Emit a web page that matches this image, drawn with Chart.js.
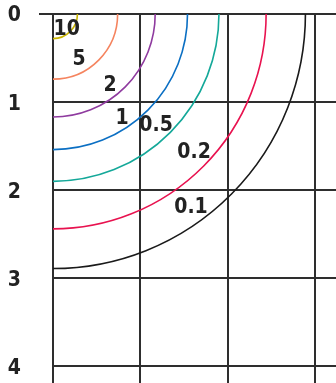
<!DOCTYPE html>
<html>
<head>
<meta charset="utf-8">
<script src="https://cdn.jsdelivr.net/npm/chart.js@4/dist/chart.umd.min.js"></script>
<style>
  html, body { margin: 0; padding: 0; background: #ffffff; overflow: hidden; }
  canvas { display: block; }
</style>
</head>
<body>
<canvas id="c" width="336" height="383" style="width:336px;height:383px"></canvas>
<script>
// ---- data ----
const curveLabels = ['10', '5', '2', '1', '0.5', '0.2', '0.1'];
const curveRadii  = [0.28, 0.74, 1.17, 1.54, 1.90, 2.44, 2.89];
const labelX      = [0.157, 0.298, 0.653, 0.79, 1.18, 1.615, 1.58];
const labelY      = [0.18, 0.52, 0.815, 1.19, 1.27, 1.577, 2.20];
const xTicks = [0, 1, 2, 3];
const yTicks = [0, 1, 2, 3, 4];

// ---- styles ----
const curveColors = ['#c9b400', '#f5845f', '#8f3b9f', '#0b6fc3', '#14a899', '#e8124f', '#1a1a1a'];
const gridColor = '#2e2e2e';
const FONT = "'DejaVu Sans Condensed', 'DejaVu Sans', sans-serif";

const arcsPlugin = {
  id: 'arcs',
  afterDatasetsDraw(chart) {
    const { ctx, chartArea, scales: { x, y } } = chart;
    const cx = x.getPixelForValue(0);
    const cy = y.getPixelForValue(0);
    ctx.save();
    ctx.beginPath();
    ctx.rect(chartArea.left, chartArea.top, chartArea.right - chartArea.left, chartArea.bottom - chartArea.top);
    ctx.clip();
    curveRadii.forEach((r, i) => {
      const rx = Math.abs(x.getPixelForValue(r) - cx);
      const ry = Math.abs(y.getPixelForValue(r) - cy);
      ctx.beginPath();
      ctx.ellipse(cx, cy, rx, ry, 0, 0, Math.PI / 2);
      ctx.strokeStyle = curveColors[i];
      ctx.lineWidth = 1.6;
      ctx.stroke();
    });
    ctx.restore();
    ctx.save();
    ctx.fillStyle = '#222222';
    ctx.font = 'bold 21px ' + FONT;
    ctx.textAlign = 'center';
    ctx.textBaseline = 'middle';
    curveLabels.forEach((t, i) => {
      ctx.fillText(t, x.getPixelForValue(labelX[i]), y.getPixelForValue(labelY[i]));
    });
    ctx.restore();
  }
};

new Chart(document.getElementById('c'), {
  type: 'scatter',
  data: { datasets: [{ data: [], showLine: false }] },
  options: {
    responsive: false,
    animation: false,
    layout: { padding: { top: 14, right: 0, bottom: 0, left: 0 } },
    plugins: { legend: { display: false }, tooltip: { enabled: false } },
    scales: {
      x: {
        type: 'linear',
        min: 0,
        max: 3.24,
        afterBuildTicks: s => { s.ticks = xTicks.map(v => ({ value: v })); },
        afterFit: s => { s.height = 0; s.paddingLeft = 0; s.paddingRight = 0; s.paddingTop = 0; s.paddingBottom = 0; },
        ticks: { display: false },
        grid: { color: gridColor, lineWidth: 2, drawTicks: false },
        border: { display: false }
      },
      y: {
        type: 'linear',
        reverse: true,
        min: 0,
        max: 4.19,
        afterBuildTicks: s => { s.ticks = yTicks.map(v => ({ value: v })); },
        afterFit: s => { s.width = 53; s.paddingTop = 0; s.paddingBottom = 0; },
        ticks: {
          color: '#222222',
          padding: 18,
          labelOffset: 2,
          font: { family: FONT, size: 21, weight: 'bold' },
          callback: v => String(v)
        },
        grid: {
          color: gridColor,
          lineWidth: 2,
          tickLength: 14,
          tickColor: c => (c.tick && c.tick.value === 0 ? gridColor : 'rgba(0,0,0,0)')
        },
        border: { display: false }
      }
    }
  },
  plugins: [arcsPlugin]
});
</script>
</body>
</html>
